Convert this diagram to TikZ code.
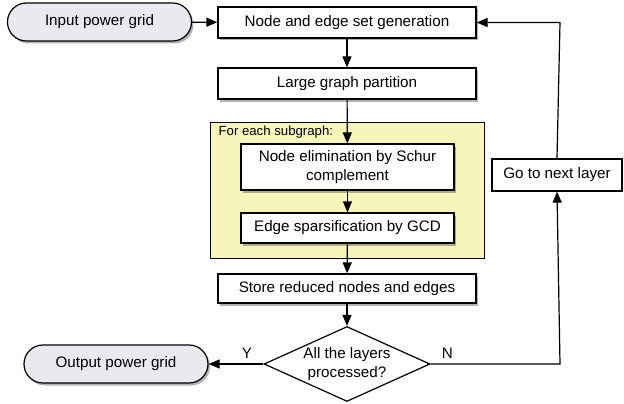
\documentclass[tikz,border=0pt]{standalone}
\usepackage{fontspec}
\setmainfont{Liberation Sans}
\usetikzlibrary{arrows.meta,shapes.geometric,shadows}
\definecolor{yel}{HTML}{F8F5BA}
\definecolor{pill}{HTML}{E9EAEF}
\begin{document}
\begin{tikzpicture}[x=1pt,y=-1pt,
  font=\fontsize{15.2}{18.5}\selectfont,
  line width=1.2pt,
  shad/.style={drop shadow={shadow xshift=2pt,shadow yshift=-2.5pt,opacity=0.3,fill=black}},
  box/.style={draw, fill=white, minimum width=258pt, minimum height=31pt, inner sep=0pt, shad},
  inbox/.style={draw, fill=white, minimum width=213pt, inner sep=0pt, align=center, shad},
  pillbox/.style={draw, fill=pill, minimum width=184pt, minimum height=38pt, inner sep=0pt, rounded corners=18.9pt, shad},
  arr/.style={-{Triangle[length=11pt,width=9pt]}},
  lbl/.style={inner sep=0pt}]
\useasboundingbox (0,0) rectangle (624,404);
% yellow container
\node[draw, fill=yel, line width=1pt, minimum width=274pt, minimum height=136pt, inner sep=0pt] (grp) at (347,190) {};
\node[lbl, anchor=west, font=\fontsize{13.2}{16}\selectfont] (grplbl) at (218,132) {For each subgraph:};
% nodes
\node[pillbox] (in) at (99.5,22) {Input power grid};
\node[box] (gen) at (347,22.5) {Node and edge set generation};
\node[box] (part) at (347,83.5) {Large graph partition};
\node[inbox, minimum height=46pt] (elim) at (347.5,167) {Node elimination by Schur\\complement};
\node[inbox, minimum height=30pt] (spar) at (347.5,228) {Edge sparsification by GCD};
\node[box, minimum height=29pt] (store) at (347,288.5) {Store reduced nodes and edges};
\node[draw, fill=white, diamond, aspect=2.18, minimum width=166pt, minimum height=75pt, inner sep=0pt, align=center] (dec) at (347,364) {All the layers\\processed?};
\node[pillbox] (out) at (116,364) {Output power grid};
\node[draw, fill=white, minimum width=130pt, minimum height=32pt, inner sep=0pt] (go) at (557,175) {Go to next layer};
\coordinate (cb) at (560,364);
\coordinate (ct) at (560,22.5);
% connectors
\draw[arr] (in) -- (gen);
\draw[arr] (gen) -- (part);
\draw[arr] (part) -- (elim);
\draw[arr] (elim) -- (spar);
\draw[arr] (spar) -- (store);
\draw[arr] (store) -- (dec);
\draw[arr] (dec) -- node[lbl, above=5pt, pos=0.3] (ylbl) {Y} (out);
\draw[arr] (dec.east) -- node[lbl, above=5pt, pos=0.13] (nlbl) {N} (cb) -- (go.south);
\draw[arr] (go.north) -- (ct) -- (gen.east);
\end{tikzpicture}
\end{document}
